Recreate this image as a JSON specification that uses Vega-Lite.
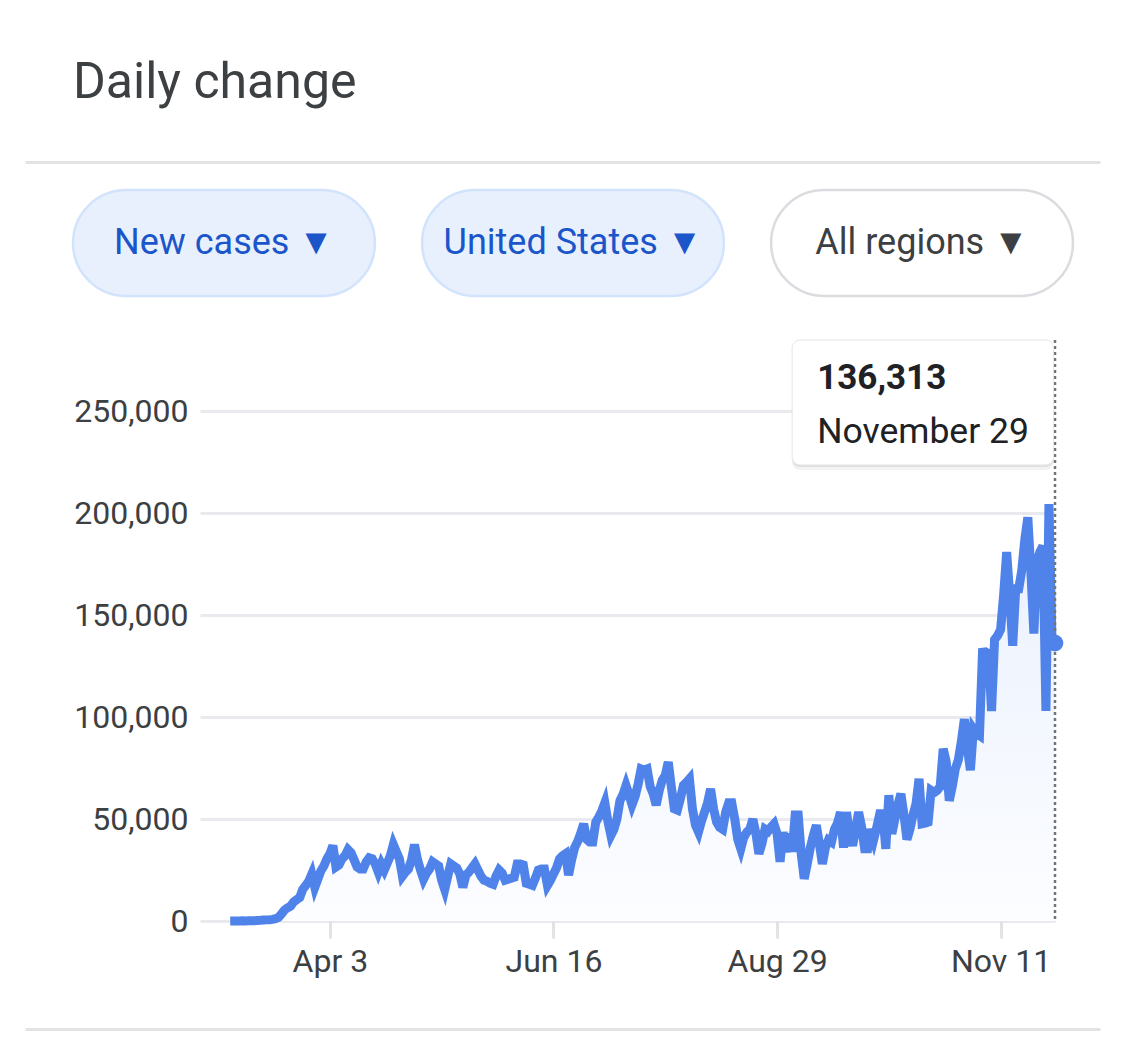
{
  "$schema": "https://vega.github.io/schema/vega-lite/v6.json",
  "background": "#ffffff",
  "padding": {"left": 25, "right": 25, "top": 58, "bottom": 26},
  "config": {"font": "Roboto", "view": {"stroke": null}},
  "title": {"text": "Daily change", "anchor": "start", "fontSize": 50, "fontWeight": "normal", "color": "#3c4043", "font": "Roboto", "dx": 48, "offset": 14, "baseline": "alphabetic"},
  "spacing": 14,
  "datasets": {
    "chips": [
      {"chip": "New cases", "state": "selected"},
      {"chip": "United States", "state": "selected"},
      {"chip": "All regions", "state": "default"}
    ],
    "div": [{"k": "a"}],
    "tip": [{"date": "2020-11-29", "cases": 136313, "label": "November 29"}],
    "cases": [
      {"date":"2020-03-01","cases":10},{"date":"2020-03-02","cases":20},{"date":"2020-03-03","cases":25},{"date":"2020-03-04","cases":30},{"date":"2020-03-05","cases":70},{"date":"2020-03-06","cases":60},{"date":"2020-03-07","cases":120},{"date":"2020-03-08","cases":110},{"date":"2020-03-09","cases":150},{"date":"2020-03-10","cases":300},{"date":"2020-03-11","cases":340},{"date":"2020-03-12","cases":450},{"date":"2020-03-13","cases":550},{"date":"2020-03-14","cases":650},{"date":"2020-03-15","cases":800},{"date":"2020-03-16","cases":1100},{"date":"2020-03-17","cases":1800},{"date":"2020-03-18","cases":3500},{"date":"2020-03-19","cases":5400},{"date":"2020-03-20","cases":6500},{"date":"2020-03-21","cases":7300},{"date":"2020-03-22","cases":9400},{"date":"2020-03-23","cases":10500},{"date":"2020-03-24","cases":11500},{"date":"2020-03-25","cases":15500},{"date":"2020-03-26","cases":17500},{"date":"2020-03-27","cases":19500},{"date":"2020-03-28","cases":23000},{"date":"2020-03-29","cases":16500},{"date":"2020-03-30","cases":20500},{"date":"2020-03-31","cases":24500},
      {"date":"2020-04-01","cases":27000},{"date":"2020-04-02","cases":30500},{"date":"2020-04-03","cases":33000},{"date":"2020-04-04","cases":37000},{"date":"2020-04-05","cases":26500},{"date":"2020-04-06","cases":27500},{"date":"2020-04-07","cases":30500},{"date":"2020-04-08","cases":32000},{"date":"2020-04-09","cases":35000},{"date":"2020-04-10","cases":33500},{"date":"2020-04-11","cases":30000},{"date":"2020-04-12","cases":26500},{"date":"2020-04-13","cases":25500},{"date":"2020-04-14","cases":25500},{"date":"2020-04-15","cases":29000},{"date":"2020-04-16","cases":31000},{"date":"2020-04-17","cases":30500},{"date":"2020-04-18","cases":28000},{"date":"2020-04-19","cases":24000},{"date":"2020-04-20","cases":28000},{"date":"2020-04-21","cases":25000},{"date":"2020-04-22","cases":28500},{"date":"2020-04-23","cases":32000},{"date":"2020-04-24","cases":37500},{"date":"2020-04-25","cases":34000},{"date":"2020-04-26","cases":30500},{"date":"2020-04-27","cases":22000},{"date":"2020-04-28","cases":24000},{"date":"2020-04-29","cases":25500},{"date":"2020-04-30","cases":30000},
      {"date":"2020-05-01","cases":37500},{"date":"2020-05-02","cases":30000},{"date":"2020-05-03","cases":25000},{"date":"2020-05-04","cases":20500},{"date":"2020-05-05","cases":23500},{"date":"2020-05-06","cases":25500},{"date":"2020-05-07","cases":29000},{"date":"2020-05-08","cases":28000},{"date":"2020-05-09","cases":27000},{"date":"2020-05-10","cases":20000},{"date":"2020-05-11","cases":15500},{"date":"2020-05-12","cases":22000},{"date":"2020-05-13","cases":28000},{"date":"2020-05-14","cases":27000},{"date":"2020-05-15","cases":26000},{"date":"2020-05-16","cases":23000},{"date":"2020-05-17","cases":16500},{"date":"2020-05-18","cases":22500},{"date":"2020-05-19","cases":24000},{"date":"2020-05-20","cases":26000},{"date":"2020-05-21","cases":28000},{"date":"2020-05-22","cases":25000},{"date":"2020-05-23","cases":22000},{"date":"2020-05-24","cases":20000},{"date":"2020-05-25","cases":19500},{"date":"2020-05-26","cases":18500},{"date":"2020-05-27","cases":18000},{"date":"2020-05-28","cases":22000},{"date":"2020-05-29","cases":25000},{"date":"2020-05-30","cases":23500},{"date":"2020-05-31","cases":20000},
      {"date":"2020-06-01","cases":20500},{"date":"2020-06-02","cases":21000},{"date":"2020-06-03","cases":21500},{"date":"2020-06-04","cases":28000},{"date":"2020-06-05","cases":28000},{"date":"2020-06-06","cases":27500},{"date":"2020-06-07","cases":18500},{"date":"2020-06-08","cases":18000},{"date":"2020-06-09","cases":17500},{"date":"2020-06-10","cases":21000},{"date":"2020-06-11","cases":25000},{"date":"2020-06-12","cases":25500},{"date":"2020-06-13","cases":25500},{"date":"2020-06-14","cases":17500},{"date":"2020-06-15","cases":20000},{"date":"2020-06-16","cases":23000},{"date":"2020-06-17","cases":26000},{"date":"2020-06-18","cases":30500},{"date":"2020-06-19","cases":32000},{"date":"2020-06-20","cases":33000},{"date":"2020-06-21","cases":22500},{"date":"2020-06-22","cases":30000},{"date":"2020-06-23","cases":36000},{"date":"2020-06-24","cases":39000},{"date":"2020-06-25","cases":43000},{"date":"2020-06-26","cases":47700},{"date":"2020-06-27","cases":40000},{"date":"2020-06-28","cases":38700},{"date":"2020-06-29","cases":38700},{"date":"2020-06-30","cases":48500},
      {"date":"2020-07-01","cases":51000},{"date":"2020-07-02","cases":54000},{"date":"2020-07-03","cases":58000},{"date":"2020-07-04","cases":49000},{"date":"2020-07-05","cases":42000},{"date":"2020-07-06","cases":45000},{"date":"2020-07-07","cases":50000},{"date":"2020-07-08","cases":59000},{"date":"2020-07-09","cases":62000},{"date":"2020-07-10","cases":66500},{"date":"2020-07-11","cases":62000},{"date":"2020-07-12","cases":57000},{"date":"2020-07-13","cases":61000},{"date":"2020-07-14","cases":67000},{"date":"2020-07-15","cases":74600},{"date":"2020-07-16","cases":74000},{"date":"2020-07-17","cases":74600},{"date":"2020-07-18","cases":66000},{"date":"2020-07-19","cases":62400},{"date":"2020-07-20","cases":56800},{"date":"2020-07-21","cases":64000},{"date":"2020-07-22","cases":69000},{"date":"2020-07-23","cases":71500},{"date":"2020-07-24","cases":78000},{"date":"2020-07-25","cases":66000},{"date":"2020-07-26","cases":55000},{"date":"2020-07-27","cases":54400},{"date":"2020-07-28","cases":60000},{"date":"2020-07-29","cases":66600},{"date":"2020-07-30","cases":68000},{"date":"2020-07-31","cases":69700},
      {"date":"2020-08-01","cases":55000},{"date":"2020-08-02","cases":47000},{"date":"2020-08-03","cases":43600},{"date":"2020-08-04","cases":49000},{"date":"2020-08-05","cases":53400},{"date":"2020-08-06","cases":58000},{"date":"2020-08-07","cases":64800},{"date":"2020-08-08","cases":55000},{"date":"2020-08-09","cases":48500},{"date":"2020-08-10","cases":46000},{"date":"2020-08-11","cases":45000},{"date":"2020-08-12","cases":53400},{"date":"2020-08-13","cases":58000},{"date":"2020-08-14","cases":58000},{"date":"2020-08-15","cases":50000},{"date":"2020-08-16","cases":40000},{"date":"2020-08-17","cases":35400},{"date":"2020-08-18","cases":41000},{"date":"2020-08-19","cases":43600},{"date":"2020-08-20","cases":45000},{"date":"2020-08-21","cases":50000},{"date":"2020-08-22","cases":43000},{"date":"2020-08-23","cases":33000},{"date":"2020-08-24","cases":38000},{"date":"2020-08-25","cases":45000},{"date":"2020-08-26","cases":44000},{"date":"2020-08-27","cases":46000},{"date":"2020-08-28","cases":47600},{"date":"2020-08-29","cases":43000},{"date":"2020-08-30","cases":29000},{"date":"2020-08-31","cases":43600},
      {"date":"2020-09-01","cases":33800},{"date":"2020-09-02","cases":42800},{"date":"2020-09-03","cases":34000},{"date":"2020-09-04","cases":52000},{"date":"2020-09-05","cases":52000},{"date":"2020-09-06","cases":33000},{"date":"2020-09-07","cases":20700},{"date":"2020-09-08","cases":28000},{"date":"2020-09-09","cases":36000},{"date":"2020-09-10","cases":42000},{"date":"2020-09-11","cases":47000},{"date":"2020-09-12","cases":38000},{"date":"2020-09-13","cases":28000},{"date":"2020-09-14","cases":36000},{"date":"2020-09-15","cases":39700},{"date":"2020-09-16","cases":38700},{"date":"2020-09-17","cases":45000},{"date":"2020-09-18","cases":48000},{"date":"2020-09-19","cases":53400},{"date":"2020-09-20","cases":36000},{"date":"2020-09-21","cases":53400},{"date":"2020-09-22","cases":42000},{"date":"2020-09-23","cases":37000},{"date":"2020-09-24","cases":45000},{"date":"2020-09-25","cases":53400},{"date":"2020-09-26","cases":46000},{"date":"2020-09-27","cases":35400},{"date":"2020-09-28","cases":35400},{"date":"2020-09-29","cases":45000},{"date":"2020-09-30","cases":40000},
      {"date":"2020-10-01","cases":46000},{"date":"2020-10-02","cases":52600},{"date":"2020-10-03","cases":52600},{"date":"2020-10-04","cases":35400},{"date":"2020-10-05","cases":61700},{"date":"2020-10-06","cases":42800},{"date":"2020-10-07","cases":50000},{"date":"2020-10-08","cases":57000},{"date":"2020-10-09","cases":62400},{"date":"2020-10-10","cases":52000},{"date":"2020-10-11","cases":40000},{"date":"2020-10-12","cases":45000},{"date":"2020-10-13","cases":52000},{"date":"2020-10-14","cases":57500},{"date":"2020-10-15","cases":69700},{"date":"2020-10-16","cases":47700},{"date":"2020-10-17","cases":48000},{"date":"2020-10-18","cases":48500},{"date":"2020-10-19","cases":64000},{"date":"2020-10-20","cases":63000},{"date":"2020-10-21","cases":64000},{"date":"2020-10-22","cases":66000},{"date":"2020-10-23","cases":84500},{"date":"2020-10-24","cases":78000},{"date":"2020-10-25","cases":59000},{"date":"2020-10-26","cases":66000},{"date":"2020-10-27","cases":74600},{"date":"2020-10-28","cases":79000},{"date":"2020-10-29","cases":88000},{"date":"2020-10-30","cases":99000},{"date":"2020-10-31","cases":85000},
      {"date":"2020-11-01","cases":74000},{"date":"2020-11-02","cases":94200},{"date":"2020-11-03","cases":92000},{"date":"2020-11-04","cases":91000},{"date":"2020-11-05","cases":131800},{"date":"2020-11-06","cases":132000},{"date":"2020-11-07","cases":131000},{"date":"2020-11-08","cases":103000},{"date":"2020-11-09","cases":138000},{"date":"2020-11-10","cases":140000},{"date":"2020-11-11","cases":143000},{"date":"2020-11-12","cases":160000},{"date":"2020-11-13","cases":181000},{"date":"2020-11-14","cases":160000},{"date":"2020-11-15","cases":135000},{"date":"2020-11-16","cases":163000},{"date":"2020-11-17","cases":163000},{"date":"2020-11-18","cases":172000},{"date":"2020-11-19","cases":187000},{"date":"2020-11-20","cases":198000},{"date":"2020-11-21","cases":172000},{"date":"2020-11-22","cases":141000},{"date":"2020-11-23","cases":176000},{"date":"2020-11-24","cases":181000},{"date":"2020-11-25","cases":184000},{"date":"2020-11-26","cases":103000},{"date":"2020-11-27","cases":204500},{"date":"2020-11-28","cases":138000},{"date":"2020-11-29","cases":136313}
    ]
  },
  "vconcat": [
    {
      "width": 900,
      "height": 162,
      "data": {"name": "chips"},
      "transform": [{"calculate": "datum.chip + '   \u25bc'", "as": "label"}],
      "encoding": {
        "x": {"field": "chip", "type": "nominal", "sort": null, "title": null,
              "scale": {"range": [-175, 900], "paddingInner": 0.135, "paddingOuter": 0.1075, "align": 0.64},
              "axis": {"orient": "top", "labels": false, "ticks": false, "domain": true, "domainColor": "#e3e3e3", "domainWidth": 3, "grid": false}},
        "y": {"datum": "chips", "type": "nominal", "scale": {"paddingOuter": 0.264, "paddingInner": 0}, "axis": null}
      },
      "layer": [
        {"mark": {"type": "rect", "cornerRadius": 53, "strokeWidth": 2.5},
         "encoding": {
           "fill": {"field": "state", "type": "nominal", "scale": {"domain": ["selected", "default"], "range": ["#e8f0fe", "#ffffff"]}, "legend": null},
           "stroke": {"field": "state", "type": "nominal", "scale": {"domain": ["selected", "default"], "range": ["#d2e3fc", "#dadce0"]}, "legend": null}
         }},
        {"mark": {"type": "text", "fontSize": 36, "font": "Roboto", "baseline": "middle"},
         "encoding": {
           "text": {"field": "label"},
           "color": {"field": "state", "type": "nominal", "scale": {"domain": ["selected", "default"], "range": ["#1a56c9", "#3c4043"]}, "legend": null}
         }}
      ]
    },
    {
      "width": 855,
      "height": 581,
      "layer": [
        {
          "data": {"name": "cases"},
          "mark": {"type": "area", "color": {"gradient": "linear", "x1": 0, "y1": 0, "x2": 0, "y2": 1, "stops": [{"offset": 0, "color": "#e9f0fd"}, {"offset": 1, "color": "#fcfdff"}]}},
          "encoding": {
            "x": {"field": "date", "type": "temporal", "title": null,
                  "scale": {"type": "utc", "domain": [{"year": 2020, "month": 2, "date": 20, "utc": true}, {"year": 2020, "month": 11, "date": 29, "utc": true}]},
                  "axis": {"values": [{"year": 2020, "month": 4, "date": 3, "utc": true}, {"year": 2020, "month": 6, "date": 16, "utc": true}, {"year": 2020, "month": 8, "date": 29, "utc": true}, {"year": 2020, "month": 11, "date": 11, "utc": true}],
                           "format": "%b %-d", "labelFontSize": 32, "labelColor": "#3c4043", "labelFont": "Roboto", "ticks": true, "tickSize": 17, "tickWidth": 3, "tickColor": "#e3e3e3", "domain": false, "grid": false, "labelPadding": 8, "labelFlush": false, "labelOverlap": false}},
            "y": {"field": "cases", "type": "quantitative", "title": null,
                  "scale": {"domain": [0, 285000], "nice": false},
                  "axis": {"values": [0, 50000, 100000, 150000, 200000, 250000], "format": ",d", "labelFontSize": 32, "labelColor": "#3c4043", "labelFont": "Roboto", "ticks": false, "tickSize": 0, "domain": false, "grid": true, "gridColor": "#e8eaed", "gridWidth": 3, "labelPadding": 12}}
          }
        },
        {
          "data": {"name": "cases"},
          "mark": {"type": "line", "color": "#4f83ea", "strokeWidth": 9},
          "encoding": {
            "x": {"field": "date", "type": "temporal", "title": null},
            "y": {"field": "cases", "type": "quantitative", "title": null}
          }
        },
        {
          "data": {"name": "tip"},
          "mark": {"type": "rule", "color": "#70757a", "strokeWidth": 2.5, "strokeDash": [3, 3]},
          "encoding": {
            "x": {"field": "date", "type": "temporal", "title": null}
          }
        },
        {
          "data": {"name": "tip"},
          "mark": {"type": "circle", "size": 280, "color": "#4f83ea", "opacity": 1},
          "encoding": {
            "x": {"field": "date", "type": "temporal", "title": null},
            "y": {"field": "cases", "type": "quantitative", "title": null}
          }
        },
        {
          "data": {"name": "tip"},
          "mark": {"type": "rect", "cornerRadius": 8, "color": "#000000", "opacity": 0.05, "yOffset": 5, "y2Offset": 5},
          "encoding": {
            "x": {"datum": {"year": 2020, "month": 9, "date": 3, "utc": true}, "type": "temporal", "title": null},
            "x2": {"datum": {"year": 2020, "month": 11, "date": 28, "hours": 12, "utc": true}},
            "y": {"datum": 285000, "type": "quantitative", "title": null},
            "y2": {"datum": 223700}
          }
        },
        {
          "data": {"name": "tip"},
          "mark": {"type": "rect", "cornerRadius": 8, "color": "#000000", "opacity": 0.08, "yOffset": 2, "y2Offset": 2},
          "encoding": {
            "x": {"datum": {"year": 2020, "month": 9, "date": 3, "utc": true}, "type": "temporal", "title": null},
            "x2": {"datum": {"year": 2020, "month": 11, "date": 28, "hours": 12, "utc": true}},
            "y": {"datum": 285000, "type": "quantitative", "title": null},
            "y2": {"datum": 223700}
          }
        },
        {
          "data": {"name": "tip"},
          "mark": {"type": "rect", "cornerRadius": 8, "fill": "#ffffff", "stroke": "#e6e6e6", "strokeWidth": 1},
          "encoding": {
            "x": {"datum": {"year": 2020, "month": 9, "date": 3, "utc": true}, "type": "temporal", "title": null},
            "x2": {"datum": {"year": 2020, "month": 11, "date": 28, "hours": 12, "utc": true}},
            "y": {"datum": 285000, "type": "quantitative", "title": null},
            "y2": {"datum": 223700}
          }
        },
        {
          "data": {"name": "tip"},
          "mark": {"type": "text", "align": "left", "baseline": "alphabetic", "fontSize": 35, "fontWeight": "bold", "font": "Roboto", "color": "#202124", "dx": 25},
          "encoding": {
            "x": {"datum": {"year": 2020, "month": 9, "date": 3, "utc": true}, "type": "temporal", "title": null},
            "y": {"datum": 261000, "type": "quantitative", "title": null},
            "text": {"field": "cases", "type": "quantitative", "format": ",d"}
          }
        },
        {
          "data": {"name": "tip"},
          "mark": {"type": "text", "align": "left", "baseline": "alphabetic", "fontSize": 35.5, "font": "Roboto", "color": "#202124", "dx": 25},
          "encoding": {
            "x": {"datum": {"year": 2020, "month": 9, "date": 3, "utc": true}, "type": "temporal", "title": null},
            "y": {"datum": 234500, "type": "quantitative", "title": null},
            "text": {"field": "label"}
          }
        }
      ]
    },
    {
      "width": 900,
      "height": 38,
      "data": {"name": "div"},
      "mark": {"type": "rect", "opacity": 0},
      "encoding": {
        "x": {"field": "k", "type": "nominal", "title": null,
              "scale": {"range": [-175, 900]},
              "axis": {"orient": "bottom", "labels": false, "ticks": false, "domain": true, "domainColor": "#e3e3e3", "domainWidth": 3, "grid": false}}
      }
    }
  ]
}
